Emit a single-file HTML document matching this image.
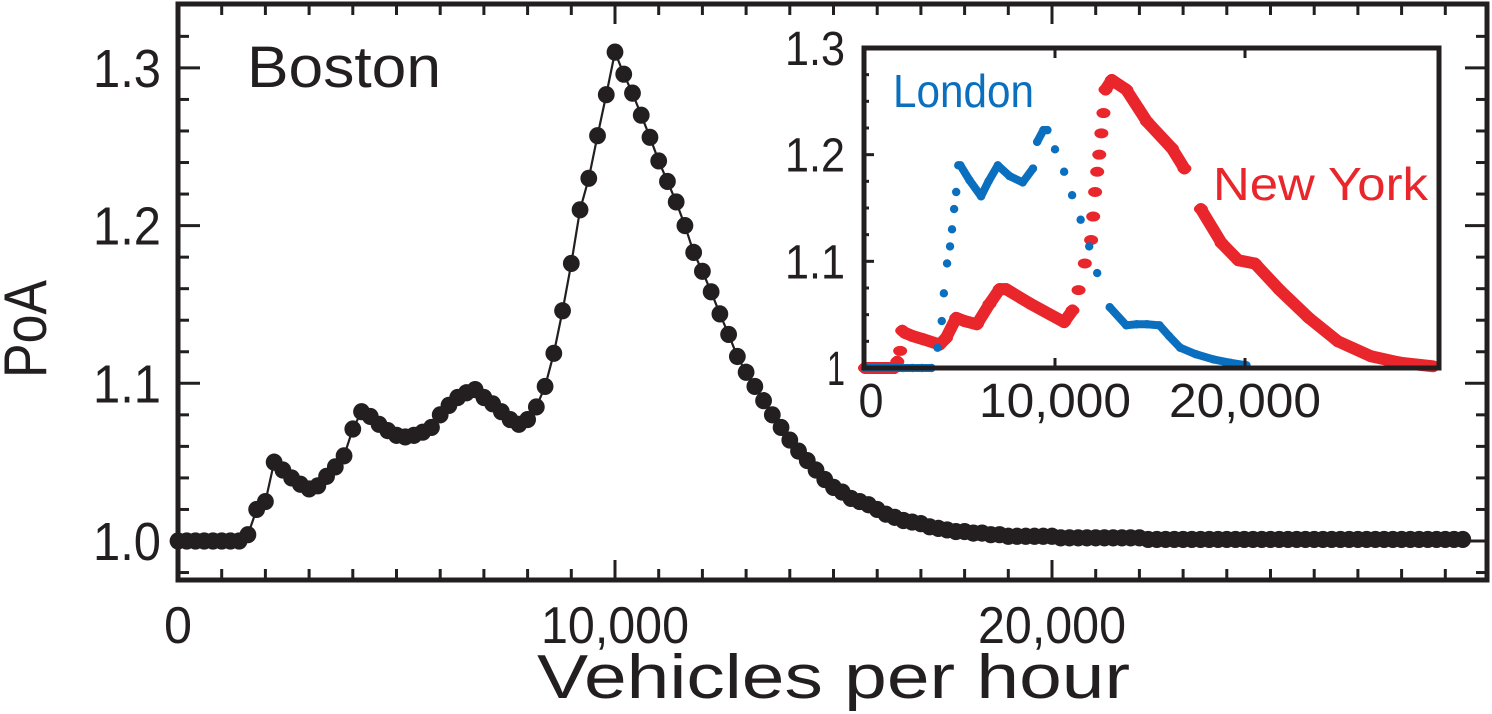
<!DOCTYPE html>
<html><head><meta charset="utf-8"><style>
html,body{margin:0;padding:0;background:#fff;}
svg{display:block;font-family:"Liberation Sans",Arial,sans-serif;}
</style></head><body>
<svg id="chart" width="1492" height="714" viewBox="0 0 1492 714" xmlns="http://www.w3.org/2000/svg">
<g id="main-marks"></g>
<g id="main-axes"></g>
<text x="247" y="87" font-size="58" fill="#231f20" textLength="194" lengthAdjust="spacingAndGlyphs">Boston</text>
<text x="537" y="698" font-size="62" fill="#231f20" textLength="593" lengthAdjust="spacingAndGlyphs">Vehicles per hour</text>
<text transform="translate(46,378) rotate(-90)" font-size="60" fill="#231f20" textLength="98" lengthAdjust="spacingAndGlyphs">PoA</text>
<g id="inset">
<rect x="864" y="48" width="575" height="320" fill="#fff"/>
<g id="inset-marks"></g>
<g id="inset-axes"></g>
<text x="893" y="107" font-size="46" fill="#0a6fbf" textLength="141" lengthAdjust="spacingAndGlyphs">London</text>
<text x="1213" y="200" font-size="46" fill="#e8262b" textLength="215" lengthAdjust="spacingAndGlyphs">New York</text>
</g>
</svg>
<script>
// ---- Data ----
const bostonStep = 200;
const bostonValues = [1,1,1,1,1,1,1,1,1.004,1.02,1.025,1.05,1.045,1.04,1.036,1.033,1.035,1.041,1.047,1.054,1.071,1.082,1.079,1.074,1.07,1.067,1.066,1.067,1.069,1.072,1.08,1.086,1.091,1.094,1.096,1.091,1.087,1.082,1.077,1.074,1.077,1.085,1.098,1.119,1.146,1.176,1.21,1.23,1.257,1.283,1.31,1.296,1.284,1.27,1.256,1.241,1.228,1.215,1.2,1.183,1.171,1.158,1.144,1.131,1.117,1.107,1.098,1.089,1.08,1.072,1.064,1.057,1.051,1.045,1.039,1.034,1.031,1.027,1.025,1.023,1.02,1.017,1.015,1.013,1.012,1.011,1.009,1.008,1.007,1.006,1.006,1.005,1.005,1.004,1.004,1.003,1.003,1.003,1.003,1.003,1.003,1.002,1.002,1.002,1.002,1.002,1.002,1.002,1.002,1.002,1.002,1.001,1.001,1.001,1.001,1.001,1.001,1.001,1.001,1.001,1.001,1.001,1.001,1.001,1.001,1.001,1.001,1.001,1.001,1.001,1.001,1.001,1.001,1.001,1.001,1.001,1.001,1.001,1.001,1.001,1.001,1.001,1.001,1.001,1.001,1.001,1.001,1.001];
const londonX = [0,500,1000,1500,2000,2500,3000,3500,3820,4040,4150,4320,4475,4580,4690,4800,4910,5020,5500,6110,6500,6990,7600,8300,8840,9060,9390,9600,10000,10480,10900,11350,11800,12220,12880,13750,14300,14840,15500,16000,16590,17400,18340,19200,20080];
const londonY = [1,1,1,1,1,1,1,1,1.019,1.044,1.07,1.098,1.114,1.13,1.149,1.165,1.19,1.19,1.176,1.161,1.175,1.19,1.18,1.174,1.187,1.212,1.223,1.223,1.205,1.184,1.162,1.139,1.114,1.089,1.057,1.04,1.041,1.041,1.04,1.03,1.019,1.013,1.008,1.005,1.0025];
const nyX = [0,500,1000,1530,1700,1850,1960,2100,2500,3060,3930,4260,4800,5240,5890,6550,7090,7420,8730,10480,10920,11240,11570,11900,12010,12110,12220,12330,12440,12550,12660,12990,13750,14840,16150,16810,17680,18770,19650,20520,21830,23360,24890,26630,28160,29900];
const nyY = [1,1,1,1,1.006,1.016,1.035,1.033,1.03,1.027,1.022,1.028,1.047,1.044,1.041,1.06,1.074,1.074,1.06,1.043,1.054,1.073,1.098,1.12,1.142,1.165,1.184,1.2,1.22,1.239,1.261,1.27,1.261,1.231,1.206,1.187,1.149,1.117,1.101,1.098,1.073,1.047,1.025,1.011,1.005,1.0016];
const mainXTickLabels = ["0","10,000","20,000"];
const mainYTickLabels = ["1.0","1.1","1.2","1.3"];
const insetXTickLabels = ["0","10,000","20,000"];
const insetYTickLabels = ["1","1.1","1.2","1.3"];

const NS = "http://www.w3.org/2000/svg";
function mk(parent, tag, attrs){const e=document.createElementNS(NS,tag);for(const k in attrs)e.setAttribute(k,attrs[k]);parent.appendChild(e);return e;}
function fitText(t, w){ if(w){ t.setAttribute('textLength', w); t.setAttribute('lengthAdjust','spacingAndGlyphs'); } }

// ---- Main axes ----
const M = {l:178,r:1487,t:4,b:580};
const mx = v => 178 + v*0.04370;
const my = v => 541 - (v-1)*1577;
const mainMarks = document.getElementById('main-marks');
const mainAxes = document.getElementById('main-axes');
const ink = "#231f20";

let pts = bostonValues.map((v,i)=>[mx(i*bostonStep), my(v)]);
const bl = mk(mainMarks,'polyline',{points:pts.map(p=>p.join(',')).join(' '),fill:'none',stroke:ink,'stroke-width':2.2});


pts.forEach(p=>{
  const c = mk(mainMarks,'ellipse',{cx:p[0],cy:p[1],rx:8.4,ry:8.6,fill:ink});
  
  
});

const fr = mk(mainAxes,'rect',{x:M.l,y:M.t,width:M.r-M.l,height:M.b-M.t,fill:'none',stroke:ink,'stroke-width':5});


for(let k=1;k<30;k++){
  const x = mx(k*1000), major = k%10===0, len = major?20:11;
  const t1 = mk(mainAxes,'line',{x1:x,x2:x,y1:M.b,y2:M.b-len,stroke:ink,'stroke-width':3});
  
  
  const t2 = mk(mainAxes,'line',{x1:x,x2:x,y1:M.t,y2:M.t+len,stroke:ink,'stroke-width':3});
  
  
}
mainXTickLabels.forEach((s,i)=>{
  const t = mk(mainAxes,'text',{x:mx(i*10000),y:643,'font-size':52,fill:ink,'text-anchor':'middle'});
  t.textContent = s;
  fitText(t, i===0?28:148);
  
  
});
for(let k=0;k<=17;k++){
  const y = my(0.98 + k*0.02);
  const major = (k-1)%5===0;
  const len = major?22:11;
  const t1 = mk(mainAxes,'line',{x1:M.l,x2:M.l+len,y1:y,y2:y,stroke:ink,'stroke-width':3});
  
  
  const t2 = mk(mainAxes,'line',{x1:M.r,x2:M.r-len,y1:y,y2:y,stroke:ink,'stroke-width':3});
  
  
}
mainYTickLabels.forEach((s,i)=>{
  const t = mk(mainAxes,'text',{x:161,y:my(1+i*0.1)+19,'font-size':54,fill:ink,'text-anchor':'end'});
  t.textContent = s;
  fitText(t, 68);
  
  
});

// ---- Inset axes ----
const I = {l:864,r:1439,t:48,b:368};
const ix = v => 865 + v*0.019;
const iy = v => 368 - (v-1)*1066.7;
const insetMarks = document.getElementById('inset-marks');
const insetAxes = document.getElementById('inset-axes');
const red = "#e8262b", blue = "#0a6fbf";

function drawSeries(xs, ys, color, width, rx, ry, nameLine, namePt){
  const p = xs.map((x,i)=>[ix(x),iy(ys[i])]);
  for(let i=1;i<p.length;i++){
    const dx = Math.abs(p[i][0]-p[i-1][0]), dy = Math.abs(p[i][1]-p[i-1][1]);
    if(dy > dx*2.2) continue; // steep rises show as separate dots
    const l = mk(insetMarks,'line',{x1:p[i-1][0],y1:p[i-1][1],x2:p[i][0],y2:p[i][1],stroke:color,'stroke-width':width,'stroke-linecap':'round'});
    
    
  }
  p.forEach(q=>{
    const c = mk(insetMarks,'ellipse',{cx:q[0],cy:q[1],rx:rx,ry:ry,fill:color});
    
    
  });
}
drawSeries(nyX, nyY, red, 12, 7, 5, 'new-york-line', 'new-york-point');
drawSeries(londonX, londonY, blue, 8, 4.2, 4.2, 'london-line', 'london-point');

const ifr = mk(insetAxes,'rect',{x:I.l,y:I.t,width:I.r-I.l,height:I.b-I.t,fill:'none',stroke:ink,'stroke-width':5});


[10000,20000].forEach(v=>{
  const x = ix(v);
  const a = mk(insetAxes,'line',{x1:x,x2:x,y1:I.b,y2:I.b-10,stroke:ink,'stroke-width':3});
  
  
  const b = mk(insetAxes,'line',{x1:x,x2:x,y1:I.t,y2:I.t+10,stroke:ink,'stroke-width':3});
  
  
});
insetXTickLabels.forEach((s,i)=>{
  const t = mk(insetAxes,'text',{x:ix(i*10000)+(i===0?6:0),y:417,'font-size':48,fill:ink,'text-anchor':'middle'});
  t.textContent = s;
  fitText(t, i===0?25:152);
  
  
});
for(let k=1;k<12;k++){
  const y = iy(1+k*0.025), major = k%4===0;
  const a = mk(insetAxes,'line',{x1:I.l,x2:I.l+(major?10:5),y1:y,y2:y,stroke:ink,'stroke-width':3});
  
  
}
insetYTickLabels.forEach((s,i)=>{
  const t = mk(insetAxes,'text',{x:845,y:iy(1+i*0.1)+17,'font-size':48,fill:ink,'text-anchor':'end'});
  t.textContent = s;
  fitText(t, i===0?18:60);
  
  
});
</script>
</body></html>
